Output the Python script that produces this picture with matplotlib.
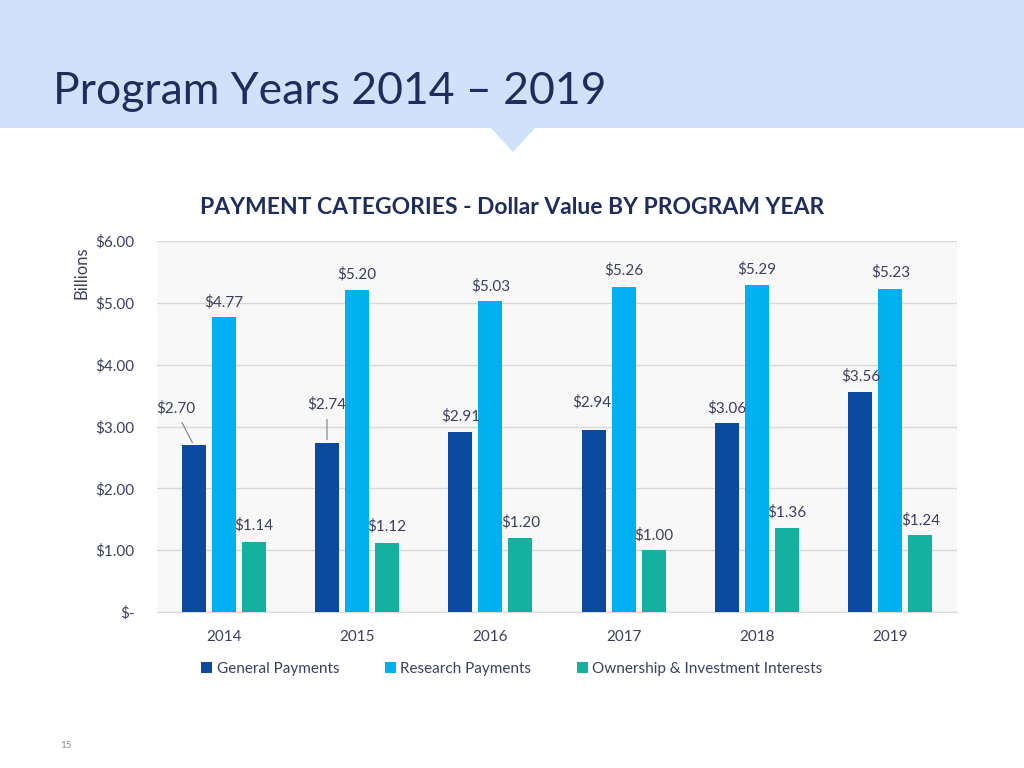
import matplotlib
matplotlib.use("Agg")
import matplotlib.pyplot as plt
from matplotlib.patches import Rectangle, Polygon
import numpy as np

years = ["2014", "2015", "2016", "2017", "2018", "2019"]
general = [2.70, 2.74, 2.91, 2.94, 3.06, 3.56]
research = [4.77, 5.20, 5.03, 5.26, 5.29, 5.23]
ownership = [1.14, 1.12, 1.20, 1.00, 1.36, 1.24]
series_names = ["General Payments", "Research Payments", "Ownership & Investment Interests"]
yticks = [0, 1, 2, 3, 4, 5, 6]
ytick_labels = ["$-", "$1.00", "$2.00", "$3.00", "$4.00", "$5.00", "$6.00"]

colors = ["#0b4a9c", "#00b0f0", "#14b0a0"]
navy = "#1f2d5c"
txt = "#3b3f5e"
plt.rcParams['font.family'] = ['Lato', 'DejaVu Sans']

# label offsets in pixels (dx, dy) from bar top centre; leader line flag
offsets = [
    [(-18, 37, True), (0, 15, False), (0, 16, False)],
    [(0, 38, True), (0, 16, False), (0, 16, False)],
    [(0, 16, False), (0, 15, False), (0, 16, False)],
    [(-2, 28, False), (0, 17, False), (0, 15, False)],
    [(0, 15, False), (0, 16, False), (0, 16, False)],
    [(0, 16, False), (0, 16, False), (0, 15, False)],
]

fig = plt.figure(figsize=(10.24, 7.68), dpi=100)

# header band
fig.patches.append(Rectangle((0, 1 - 128 / 768), 1, 128 / 768, transform=fig.transFigure,
                             facecolor="#cfe2f9", edgecolor="none", zorder=0))
fig.patches.append(Polygon([(490 / 1024, 1 - 127 / 768), (536 / 1024, 1 - 127 / 768),
                            (513 / 1024, 1 - 152 / 768)], closed=True, transform=fig.transFigure,
                           facecolor="#cfe2f9", edgecolor="none", zorder=0))
fig.text(53 / 1024, 1 - 92 / 768, "Program Years 2014 \u2013 2019", fontsize=32,
         color=navy, va="center", ha="left")
fig.text(66 / 1024, 1 - 746 / 768, "15", fontsize=7, color="#8c8c8c", ha="center", va="center")

ax = fig.add_axes([157 / 1024, 1 - 612 / 768, 800 / 1024, 371 / 768])
ax.set_facecolor("#f8f8f8")
x = np.arange(len(years))
w = 0.18
step = 0.225
data = [general, research, ownership]
for k, vals in enumerate(data):
    ax.bar(x + (k - 1) * step, vals, width=w, color=colors[k], label=series_names[k], zorder=3)

for i in range(len(years)):
    for k in range(3):
        xc = x[i] + (k - 1) * step
        v = data[k][i]
        dx, dy, lead = offsets[i][k]
        ax.annotate("${:.2f}".format(v), xy=(xc, v), xytext=(dx, dy), textcoords="offset pixels",
                    ha="center", va="center", fontsize=11, color=txt, zorder=4)
        if lead:
            ax.annotate("", xy=(xc, v), xytext=(dx + (5 if dx else 0), dy - 12),
                        textcoords="offset pixels",
                        arrowprops=dict(arrowstyle="-", color="#7f7f7f", lw=0.8))

ax.set_xlim(-0.5, len(years) - 0.5)
ax.set_ylim(0, 6)
ax.set_yticks(yticks)
ax.set_yticklabels(ytick_labels)
ax.set_xticks(x)
ax.set_xticklabels(years)
ax.tick_params(axis="both", length=0, labelsize=11, labelcolor=txt)
ax.tick_params(axis="y", pad=16)
ax.tick_params(axis="x", pad=13)
ax.grid(axis="y", color="#d9d9d9", lw=1, zorder=0)
for s in ["top", "right", "left"]:
    ax.spines[s].set_visible(False)
ax.spines["bottom"].set_color("#d9d9d9")
ax.set_ylabel("Billions", fontsize=12, color=txt)
ax.yaxis.set_label_coords(-0.085, 0.915)

fig.text(512 / 1024, 1 - 208 / 768, "PAYMENT CATEGORIES - Dollar Value BY PROGRAM YEAR",
         fontsize=16.5, fontweight="bold", color=navy, ha="center", va="center")

fig.legend(loc="center", bbox_to_anchor=(512 / 1024, 1 - 669 / 768), ncol=3, frameon=False,
           fontsize=11, labelcolor=txt, handlelength=0.7, handleheight=0.7,
           handletextpad=0.3, columnspacing=3.0)

fig.savefig("out.png", dpi=100)
